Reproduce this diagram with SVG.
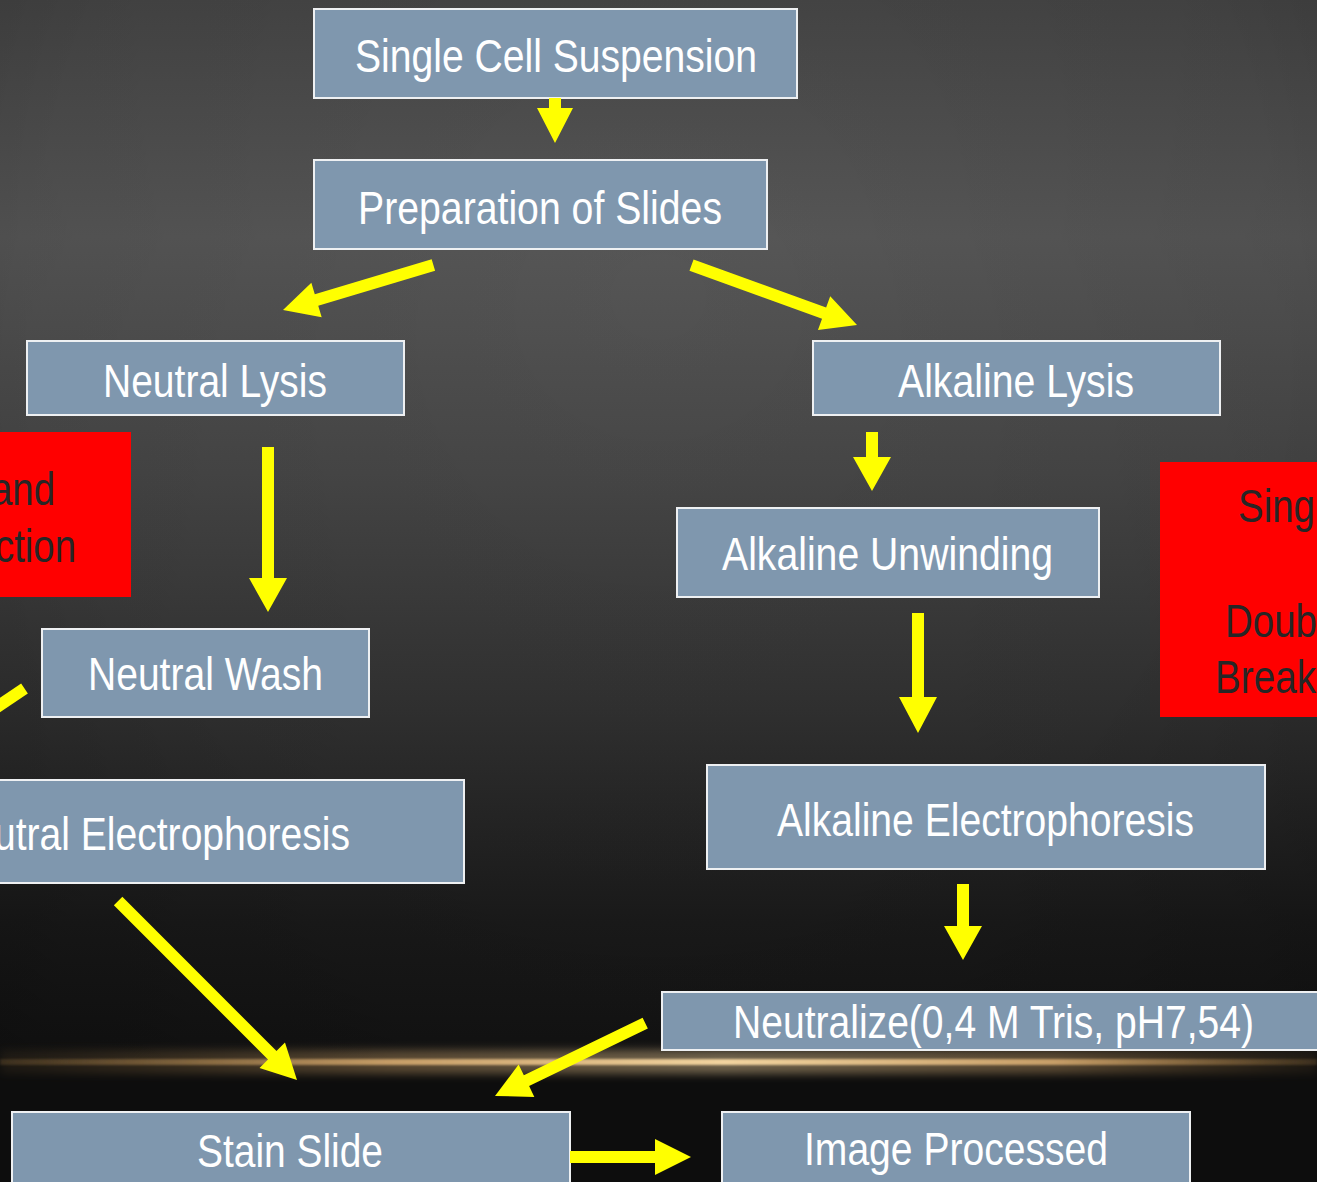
<svg xmlns="http://www.w3.org/2000/svg" width="1317" height="1182" viewBox="0 0 1317 1182">
  <defs>
    <linearGradient id="bg" x1="0" y1="0" x2="0" y2="1">
      <stop offset="0" stop-color="#464646"/>
      <stop offset="0.2" stop-color="#575757"/>
      <stop offset="0.4" stop-color="#474747"/>
      <stop offset="0.6" stop-color="#323232"/>
      <stop offset="0.78" stop-color="#1c1c1c"/>
      <stop offset="0.895" stop-color="#151515"/>
      <stop offset="0.91" stop-color="#0e0e0e"/>
      <stop offset="1" stop-color="#0c0c0c"/>
    </linearGradient>
    <radialGradient id="vign" cx="0.5" cy="0.25" r="0.8">
      <stop offset="0" stop-color="#000" stop-opacity="0"/>
      <stop offset="0.6" stop-color="#000" stop-opacity="0.08"/>
      <stop offset="1" stop-color="#000" stop-opacity="0.3"/>
    </radialGradient>
    <radialGradient id="spot" cx="0.5" cy="1" r="0.5">
      <stop offset="0" stop-color="#5a5a5a" stop-opacity="0.7"/>
      <stop offset="1" stop-color="#5a5a5a" stop-opacity="0"/>
    </radialGradient>
    <linearGradient id="glow" x1="0" y1="0" x2="1" y2="0">
      <stop offset="0" stop-color="#c89550" stop-opacity="0.2"/>
      <stop offset="0.3" stop-color="#e8b878" stop-opacity="0.85"/>
      <stop offset="0.55" stop-color="#ffe0a8" stop-opacity="1"/>
      <stop offset="0.8" stop-color="#e8b878" stop-opacity="0.85"/>
      <stop offset="1" stop-color="#c89550" stop-opacity="0.2"/>
    </linearGradient>
    <filter id="blur" x="-10%" y="-300%" width="120%" height="700%">
      <feGaussianBlur stdDeviation="4"/>
    </filter>
    <filter id="blur2" x="-10%" y="-300%" width="120%" height="700%">
      <feGaussianBlur stdDeviation="1"/>
    </filter>
    <style>
      .box { fill: #7f97ae; stroke: #eef0f2; stroke-width: 2; }
      .red { fill: #ff0000; }
      .t { font-family: "Liberation Sans Narrow", "Liberation Sans", Arial, sans-serif; font-size: 47px; fill: #ffffff; }
      .rt { font-family: "Liberation Sans Narrow", "Liberation Sans", Arial, sans-serif; font-size: 47px; fill: #262626; }
      .arr { fill: #ffff00; }
    </style>
  </defs>

  <rect x="0" y="0" width="1317" height="1182" fill="url(#bg)"/>
  <rect x="0" y="0" width="1317" height="1182" fill="url(#vign)"/>
  <ellipse cx="650" cy="1062" rx="520" ry="160" fill="url(#spot)"/>
  <rect x="0" y="1063" width="1317" height="119" fill="#0d0d0d"/>
  <rect x="0" y="1050" width="1317" height="24" fill="url(#glow)" opacity="0.4" filter="url(#blur)"/>
  <rect x="0" y="1059" width="1317" height="6" fill="url(#glow)" opacity="0.9" filter="url(#blur2)"/>

  <g id="red-left">
    <rect class="red" x="-10" y="432" width="141" height="165"/>
    <text class="rt" x="-9" y="505" textLength="64" lengthAdjust="spacingAndGlyphs">and</text>
    <text class="rt" x="-5" y="562" textLength="81" lengthAdjust="spacingAndGlyphs">ction</text>
  </g>
  <g id="red-right">
    <rect class="red" x="1160" y="462" width="170" height="255"/>
    <text class="rt" x="1238" y="522" textLength="77" lengthAdjust="spacingAndGlyphs">Sing</text>
    <text class="rt" x="1225" y="637" textLength="92" lengthAdjust="spacingAndGlyphs">Doub</text>
    <text class="rt" x="1215" y="693" textLength="101" lengthAdjust="spacingAndGlyphs">Break</text>
  </g>

  <g id="single-cell-suspension">
    <rect class="box" x="314" y="9" width="483" height="89"/>
    <text class="t" x="355" y="72" textLength="402" lengthAdjust="spacingAndGlyphs">Single Cell Suspension</text>
  </g>
  <g id="preparation-of-slides">
    <rect class="box" x="314" y="160" width="453" height="89"/>
    <text class="t" x="358" y="224" textLength="364" lengthAdjust="spacingAndGlyphs">Preparation of Slides</text>
  </g>
  <g id="neutral-lysis">
    <rect class="box" x="27" y="341" width="377" height="74"/>
    <text class="t" x="103" y="397" textLength="224" lengthAdjust="spacingAndGlyphs">Neutral Lysis</text>
  </g>
  <g id="alkaline-lysis">
    <rect class="box" x="813" y="341" width="407" height="74"/>
    <text class="t" x="898" y="397" textLength="236" lengthAdjust="spacingAndGlyphs">Alkaline Lysis</text>
  </g>
  <g id="alkaline-unwinding">
    <rect class="box" x="677" y="508" width="422" height="89"/>
    <text class="t" x="722" y="570" textLength="331" lengthAdjust="spacingAndGlyphs">Alkaline Unwinding</text>
  </g>
  <g id="neutral-wash">
    <rect class="box" x="42" y="629" width="327" height="88"/>
    <text class="t" x="88" y="690" textLength="235" lengthAdjust="spacingAndGlyphs">Neutral Wash</text>
  </g>
  <g id="neutral-electrophoresis">
    <rect class="box" x="-10" y="780" width="474" height="103"/>
    <text class="t" x="-56" y="850" textLength="406" lengthAdjust="spacingAndGlyphs">Neutral Electrophoresis</text>
  </g>
  <g id="alkaline-electrophoresis">
    <rect class="box" x="707" y="765" width="558" height="104"/>
    <text class="t" x="777" y="836" textLength="417" lengthAdjust="spacingAndGlyphs">Alkaline Electrophoresis</text>
  </g>
  <g id="neutralize">
    <rect class="box" x="662" y="992" width="670" height="58"/>
    <text class="t" x="733" y="1038" textLength="521" lengthAdjust="spacingAndGlyphs">Neutralize(0,4 M Tris, pH7,54)</text>
  </g>
  <g id="stain-slide">
    <rect class="box" x="12" y="1112" width="558" height="80"/>
    <text class="t" x="197" y="1167" textLength="186" lengthAdjust="spacingAndGlyphs">Stain Slide</text>
  </g>
  <g id="image-processed">
    <rect class="box" x="722" y="1112" width="468" height="80"/>
    <text class="t" x="804" y="1165" textLength="304" lengthAdjust="spacingAndGlyphs">Image Processed</text>
  </g>

  <g id="connectors">
    <polygon class="arr" points="549,98 561,98 561,108 573,108 555,143 537,108 549,108"/>
    <polygon class="arr" transform="translate(283,310) rotate(163.3)" points="-157,-6 -35,-6 -35,-18 0,0 -35,18 -35,6 -157,6"/>
    <polygon class="arr" transform="translate(857,325) rotate(19.9)" points="-176,-6 -35,-6 -35,-18 0,0 -35,18 -35,6 -176,6"/>
    <polygon class="arr" points="262,447 274,447 274,578 287,578 268,612 249,578 262,578"/>
    <polygon class="arr" points="866,432 878,432 878,457 891,457 872,491 853,457 866,457"/>
    <polygon class="arr" points="912,613 924,613 924,697 937,697 918,733 899,697 912,697"/>
    <polygon class="arr" transform="translate(24.5,688.5) rotate(146)" points="0,-6 100,-6 100,6 0,6"/>
    <polygon class="arr" transform="translate(297,1080) rotate(45)" points="-253,-6 -35,-6 -35,-18 0,0 -35,18 -35,6 -253,6"/>
    <polygon class="arr" points="957,884 969,884 969,926 982,926 963,960 944,926 957,926"/>
    <polygon class="arr" transform="translate(495,1096) rotate(154.1)" points="-167,-6 -35,-6 -35,-18 0,0 -35,18 -35,6 -167,6"/>
    <polygon class="arr" points="570,1151 655,1151 655,1139 691,1157 655,1175 655,1163 570,1163"/>
  </g>
</svg>
